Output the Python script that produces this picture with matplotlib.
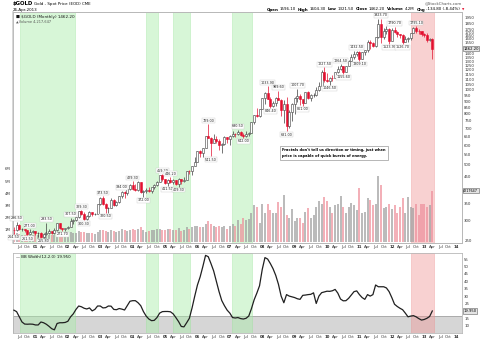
import matplotlib
matplotlib.use("Agg")
import matplotlib.pyplot as plt
import matplotlib.transforms as mtransforms
import numpy as np

# monthly candles, May 2000 .. Apr 2013 (x = months counted from Jan 2000)
first_month = 4
first_open = 275.0

close = ([273.6, 288.2, 276.8, 277.0, 273.7, 264.5, 269.1, 272.6]
         + [265.6, 266.7, 258.0, 263.2, 267.5, 270.6, 265.9, 273.0, 291.5, 278.8, 275.5, 278.9]
         + [282.3, 296.8, 301.4, 308.2, 326.6, 318.5, 304.6, 312.8, 323.7, 316.9, 319.1, 347.2]
         + [367.5, 347.5, 334.9, 336.8, 361.4, 346.0, 354.8, 375.6, 388.0, 386.3, 398.4, 416.3]
         + [400.4, 397.1, 427.2, 388.5, 393.3, 395.8, 391.4, 407.3, 415.7, 428.4, 453.4, 438.0]
         + [422.2, 435.5, 427.5, 435.7, 417.3, 437.1, 429.0, 433.3, 473.3, 470.8, 495.6, 513.0]
         + [568.8, 556.0, 582.0, 654.5, 643.5, 613.5, 633.0, 623.5, 599.3, 603.8, 646.7, 632.0]
         + [650.5, 664.2, 661.8, 677.5, 659.0, 650.5, 665.5, 672.0, 743.0, 789.5, 783.5, 833.8]
         + [923.0, 971.5, 916.5, 864.0, 885.0, 926.0, 912.0, 833.0, 880.0, 718.0, 814.5, 880.0]
         + [927.0, 942.0, 919.5, 886.0, 979.0, 927.0, 955.0, 955.5, 1001.0, 1039.0, 1182.0, 1096.0]
         + [1081.0, 1119.0, 1113.0, 1180.0, 1216.0, 1244.0, 1181.0, 1248.0, 1308.0, 1358.0, 1386.0, 1421.0]
         + [1333.0, 1411.0, 1439.0, 1556.0, 1536.0, 1500.0, 1628.0, 1826.0, 1620.0, 1723.0, 1746.0, 1566.0]
         + [1738.0, 1710.0, 1669.0, 1664.0, 1560.0, 1598.0, 1614.0, 1692.0, 1774.0, 1719.0, 1712.0, 1675.0]
         + [1663.0, 1578.0, 1597.0, 1462.2])

high = ([281.0, 296.5, 290.5, 280.5, 276.5, 274.0, 277.0, 275.0]
        + [272.5, 269.0, 269.0, 266.0, 293.5, 278.0, 272.0, 279.0, 293.0, 292.5, 280.0, 280.5]
        + [284.0, 307.5, 303.5, 311.0, 328.0, 329.3, 324.0, 315.0, 326.0, 325.0, 322.0, 350.0]
        + [372.0, 373.5, 352.0, 340.5, 370.0, 365.0, 358.0, 376.0, 394.0, 392.0, 400.0, 417.5]
        + [429.3, 418.0, 429.0, 428.0, 395.0, 404.0, 408.0, 409.0, 419.0, 430.0, 454.0, 459.2]
        + [438.0, 439.0, 446.2, 439.0, 436.0, 443.0, 439.0, 448.0, 474.0, 477.0, 497.0, 538.0]
        + [570.0, 574.0, 585.0, 655.0, 729.0, 645.0, 665.0, 655.0, 632.0, 612.0, 650.0, 648.0]
        + [657.0, 686.0, 669.0, 690.5, 686.0, 673.0, 683.0, 676.0, 745.0, 795.0, 841.0, 838.0]
        + [928.0, 975.0, 1033.9, 933.0, 903.0, 939.0, 989.6, 915.0, 912.0, 935.0, 828.0, 885.0]
        + [937.0, 1007.7, 963.0, 922.0, 983.0, 990.0, 960.0, 966.0, 1025.0, 1070.0, 1195.0, 1227.5]
        + [1162.0, 1125.0, 1143.0, 1182.0, 1249.0, 1264.5, 1245.0, 1250.0, 1310.0, 1388.0, 1424.0, 1432.5]
        + [1424.0, 1414.0, 1448.0, 1576.0, 1577.0, 1556.0, 1632.0, 1913.0, 1923.7, 1764.0, 1805.0, 1764.0]
        + [1764.0, 1790.7, 1720.0, 1678.0, 1667.0, 1640.0, 1627.0, 1693.0, 1788.0, 1795.1, 1755.0, 1722.0]
        + [1695.0, 1682.0, 1617.0, 1604.3])

low = ([264.5, 270.5, 275.0, 270.5, 268.5, 261.5, 263.5, 267.0]
       + [263.0, 256.5, 256.0, 255.8, 263.0, 265.0, 264.0, 264.5, 271.0, 277.0, 271.7, 272.5]
       + [276.5, 281.0, 289.0, 299.0, 307.5, 314.0, 300.3, 301.0, 310.0, 313.0, 314.0, 316.5]
       + [344.5, 345.0, 320.5, 322.0, 335.0, 342.0, 341.5, 352.0, 370.0, 369.0, 379.0, 396.0]
       + [397.0, 392.0, 393.0, 385.0, 372.0, 384.0, 389.0, 385.0, 399.0, 412.0, 426.0, 431.0]
       + [418.0, 411.5, 423.0, 421.0, 414.5, 409.3, 418.5, 427.0, 433.0, 458.0, 456.0, 494.0]
       + [513.0, 538.0, 536.0, 582.0, 640.0, 541.5, 612.0, 612.0, 573.0, 560.0, 603.0, 611.0]
       + [603.0, 645.0, 645.0, 660.0, 651.0, 642.0, 648.0, 650.0, 670.0, 730.0, 779.0, 781.0]
       + [834.0, 880.0, 914.0, 846.4, 851.0, 858.0, 908.0, 786.0, 735.0, 681.0, 705.0, 747.0]
       + [802.0, 890.0, 865.0, 861.0, 883.0, 920.0, 905.0, 931.0, 942.0, 992.0, 1035.0, 1075.0]
       + [1075.0, 1046.5, 1088.0, 1113.0, 1164.0, 1198.0, 1155.6, 1177.0, 1242.0, 1308.0, 1330.0, 1360.0]
       + [1309.1, 1329.0, 1381.0, 1419.0, 1462.0, 1478.0, 1480.0, 1611.0, 1535.0, 1603.0, 1671.0, 1523.9]
       + [1563.0, 1693.0, 1627.0, 1614.0, 1526.7, 1547.0, 1555.0, 1583.0, 1683.0, 1692.0, 1672.0, 1635.0]
       + [1626.0, 1555.0, 1562.0, 1321.5])

# volume, millions
volume = ([0.7, 0.75, 0.65, 0.6, 0.6, 0.65, 0.6, 0.6]
          + [0.65, 0.6, 0.7, 0.6, 0.8, 0.55, 0.55, 0.6, 0.85, 0.7, 0.6, 0.55]
          + [0.65, 0.85, 0.7, 0.7, 0.9, 0.85, 0.8, 0.7, 0.75, 0.7, 0.65, 0.85]
          + [1.0, 0.95, 0.9, 0.85, 1.0, 0.9, 0.85, 0.9, 1.05, 0.95, 0.9, 1.0]
          + [1.1, 1.0, 1.05, 1.2, 1.0, 0.85, 0.9, 0.95, 1.0, 1.05, 1.1, 1.0]
          + [0.95, 1.05, 1.1, 0.95, 1.0, 1.15, 0.9, 0.95, 1.2, 1.1, 1.25, 1.3]
          + [1.35, 1.2, 1.25, 1.45, 1.75, 1.5, 1.3, 1.2, 1.35, 1.25, 1.3, 1.1]
          + [1.3, 1.5, 1.35, 1.8, 1.5, 1.95, 1.8, 1.85, 2.35, 3.0, 2.9, 1.55]
          + [3.1, 2.4, 3.1, 2.6, 2.4, 2.4, 3.3, 2.9, 3.85, 2.2, 1.95, 2.7]
          + [1.7, 2.0, 2.0, 1.6, 2.5, 2.75, 2.0, 2.2, 2.9, 3.4, 3.1, 3.7]
          + [3.35, 2.9, 2.4, 3.0, 3.1, 3.8, 2.9, 2.4, 2.9, 3.2, 3.0, 2.6]
          + [4.45, 2.35, 2.5, 3.6, 3.45, 3.0, 3.1, 5.4, 4.7, 2.75, 2.9, 3.1]
          + [2.7, 3.0, 2.35, 2.9, 3.6, 2.4, 3.7, 2.9, 2.75, 3.15, 2.2, 3.1]
          + [3.1, 2.9, 3.0, 4.22])

# BB Width(12,2.0)
bbw = ([20.5, 19.5, 16, 12.5, 11.1, 11, 11.1, 11]
       + [10.5, 10.5, 12.5, 12, 11, 9.6, 8, 7.2, 11.5, 12, 12, 12.2]
       + [13, 16, 18, 21, 23.3, 22.8, 21.8, 21.3, 22, 20, 21, 23.3]
       + [23.3, 22, 22.2, 23.3, 23.2, 21, 20.8, 21.6, 21.2, 20.6, 23.5, 26.5]
       + [26.9, 26.9, 25.5, 23.5, 19.5, 16.5, 14.5, 13.4, 13.6, 15.5, 18.5, 19.5]
       + [19.6, 19.6, 19.4, 18, 15.5, 12.8, 9.5, 9.2, 12, 15, 22, 30]
       + [37.5, 43, 50, 57.5, 56.6, 52, 47, 40, 33, 27, 23.5, 20.5]
       + [18.5, 15.5, 15.2, 15.5, 14.8, 14.5, 15, 16.5, 21.5, 27.5, 32, 37]
       + [48, 56, 55, 52, 48.5, 44, 38, 30, 25.5, 31, 30, 29.5]
       + [29, 28.2, 27.8, 30.5, 30.7, 31, 31.2, 32.2, 25, 30, 32.3, 32.8]
       + [33.3, 33.2, 33.6, 34.5, 32, 28, 26.8, 26.9, 28.5, 30.7, 33, 33.5]
       + [31, 29, 27.8, 31, 30, 31, 37.5, 36.3, 36.3, 36.3, 35.5, 33]
       + [29, 24.5, 23, 21.8, 20.8, 18.5, 16, 16.5, 16.8, 16, 14.8, 13.8]
       + [14.2, 15, 16.2, 19.95])

# swing highs / lows that carry a price tag (month index)
tag_high = [5, 10, 16, 25, 29, 37, 44, 48, 59, 62, 76, 87, 98, 102, 109, 119, 125, 131, 140, 145, 153]
tag_low = [4, 9, 15, 22, 30, 38, 52, 61, 65, 77, 89, 99, 105, 111, 121, 126, 132, 143, 148]

# highlighted periods (month index)
green_spans = [(6.2, 26.5), (52.8, 57.5), (62.8, 69.3), (84.7, 92.3)]
red_spans = [(151.0, 159.5)]
bb_squeeze = 16.5

price_ticks = [250, 300, 350, 450, 500, 550, 600, 650, 700, 750, 800, 850, 900, 950, 1000,
               1050, 1100, 1150, 1200, 1250, 1300, 1350, 1400, 1550, 1600, 1650, 1700, 1750,
               1850, 1950]
bb_ticks = [10, 15, 25, 30, 35, 40, 45, 50, 55]
vol_ticks = [1, 2, 3, 4, 5, 6]

RED = "#e3102f"
DARK = "#3c3c3c"
GREEN = "#a8eda8"
PINK = "#f09a9a"
FS = 2.8

x = np.arange(first_month, first_month + len(close))
c = np.array(close)
o = np.array([first_open] + close[:-1])
h = np.array(high)
l = np.array(low)
up = c >= o

W, H = 480, 340
fig = plt.figure(figsize=(4.8, 3.4), dpi=100)


def rect(left, top, right, bottom):
    return [left / W, 1 - bottom / H, (right - left) / W, (bottom - top) / H]


ax_vol = fig.add_axes(rect(13, 12, 462, 243))
ax = ax_vol.twinx()
ax_bb = fig.add_axes(rect(13, 253, 462, 333), sharex=ax_vol)

for a in (ax_vol, ax_bb):
    for s, e in green_spans:
        a.axvspan(s, e, fc=GREEN, ec="#8fe38f", lw=0.5, alpha=0.45, zorder=1)
    for s, e in red_spans:
        a.axvspan(s, e, fc=PINK, ec="#e88", lw=0.5, alpha=0.45, zorder=1)

# volume
ax_vol.bar(x, volume, width=0.75, color=["#9e9e9e" if u else "#ee8f9b" for u in up],
           alpha=0.7, lw=0, zorder=2)
ax_vol.set_ylim(-0.08, 18.86)
ax_vol.set_yticks(vol_ticks)
ax_vol.set_yticklabels([f"{v}M" for v in vol_ticks])

# candles
ax.set_yscale("log")
ax.vlines(x, l, h, colors=[DARK if u else RED for u in up], lw=0.5, zorder=3)
ax.bar(x, np.abs(c - o), bottom=np.minimum(o, c), width=0.75,
       color=["white" if u else RED for u in up],
       edgecolor=[DARK if u else RED for u in up], lw=0.4, zorder=4)
ax.set_ylim(243.2, 2048)
ax.set_yticks(price_ticks)
ax.set_yticklabels([str(t) for t in price_ticks])
ax.yaxis.set_minor_locator(matplotlib.ticker.NullLocator())

tag_box = dict(boxstyle="square,pad=0.12", fc="white", ec="#cccccc", lw=0.3)
for m in tag_high:
    i = m - first_month
    ax.annotate(f"{h[i]:.2f}", (x[i], h[i]), xytext=(0, 1.0), textcoords="offset points",
                ha="center", va="bottom", fontsize=2.4, color="#222", bbox=tag_box, zorder=6)
for m in tag_low:
    i = m - first_month
    ax.annotate(f"{l[i]:.2f}", (x[i], l[i]), xytext=(0, -1.0), textcoords="offset points",
                ha="center", va="top", fontsize=2.4, color="#222", bbox=tag_box, zorder=6)

# BB width panel
ax_bb.axhspan(5.07, bb_squeeze, fc="#d6d6d6", ec="#a0a0a0", lw=0.6, zorder=0.5)
ax_bb.plot(x, bbw, color="#202020", lw=0.9, zorder=3)
ax_bb.set_ylim(5.07, 59.1)
ax_bb.yaxis.tick_right()
ax_bb.set_yticks(bb_ticks)
ax_bb.set_yticklabels([str(t) for t in bb_ticks])

# time axis
ax_vol.set_xlim(3.67, 170.0)
qpos = list(range(6, 169, 3))
qlab = []
for q in qpos:
    mon = q % 12
    qlab.append(f"{(2000 + q // 12) % 100:02d}" if mon == 0 else {3: "Apr", 6: "Jul", 9: "Oct"}[mon])
ax_vol.set_xticks(qpos)
ax_vol.set_xticklabels(qlab)

for a in (ax_vol, ax, ax_bb):
    a.tick_params(length=0, labelsize=FS, pad=1.6, colors="#333")
    for sp in a.spines.values():
        sp.set_color("#b8b8b8")
        sp.set_linewidth(0.6)
ax_vol.spines["left"].set_color("#d0d0d0")
ax_vol.spines["left"].set_linewidth(1.2)
ax_vol.tick_params(axis="x", pad=1.4)
ax_bb.tick_params(axis="x", pad=1.2)
for a in (ax_vol, ax_bb):
    for t in a.get_xticklabels():
        if t.get_text().isdigit():
            t.set_fontweight("bold")

# current value boxes on the right scale
val_box = dict(boxstyle="square,pad=0.15", fc="#e4e4e4", ec="#606060", lw=0.4)
ax.text(1.003, c[-1], f"{c[-1]:.2f}", transform=mtransforms.blended_transform_factory(ax.transAxes, ax.transData),
        fontsize=2.7, va="center", ha="left", bbox=val_box, clip_on=False)
ax_vol.text(1.003, volume[-1], "4217647", transform=mtransforms.blended_transform_factory(ax_vol.transAxes, ax_vol.transData),
            fontsize=2.4, va="center", ha="left", bbox=val_box, clip_on=False)
ax_bb.text(1.003, bbw[-1], f"{bbw[-1]:.3f}", transform=mtransforms.blended_transform_factory(ax_bb.transAxes, ax_bb.transData),
           fontsize=2.7, va="center", ha="left", bbox=val_box, clip_on=False)

# in-panel legends
ax.text(0.006, 0.988, "\u25a0 $GOLD (Monthly) 1462.20", transform=ax.transAxes, fontsize=3.0,
        va="top", ha="left", color="#111")
ax.text(0.006, 0.968, "\u25b2Volume 4,217,647", transform=ax.transAxes, fontsize=2.5,
        va="top", ha="left", color="#555")
ax_bb.text(0.006, 0.975, "\u2014 BB Width(12,2.0) 19.950", transform=ax_bb.transAxes, fontsize=2.9,
           va="top", ha="left", color="#111")

# note
fig.text(282 / W, 1 - 148.5 / H,
         "Fractals don't tell us direction or timing, just when\nprice is capable of quick bursts of energy.",
         fontsize=2.6, fontweight="bold", va="top", ha="left", linespacing=1.6,
         bbox=dict(boxstyle="square,pad=0.6", fc="white", ec="#9a9a9a", lw=0.5))

# header
fig.text(13 / W, 1 - 4 / H, "$GOLD", fontsize=3.9, fontweight="bold", va="center", ha="left")
fig.text(34 / W, 1 - 4 / H, "Gold - Spot Price (EOD) CME", fontsize=2.9, va="center", ha="left")
fig.text(13 / W, 1 - 9.5 / H, "26-Apr-2013", fontsize=2.9, va="center", ha="left")
fig.text(462 / W, 1 - 3.5 / H, "@StockCharts.com", fontsize=2.8, va="center", ha="right", color="#555")

fig.canvas.draw()
rend = fig.canvas.get_renderer()
parts = [("Open", True), ("1596.10", False), ("High", True), ("1604.30", False), ("Low", True),
         ("1321.50", False), ("Close", True), ("1462.20", False), ("Volume", True), ("4.2M", False),
         ("Chg", True), ("-134.80 (-8.44%)", False)]
xpos = 266.5
for word, bold in parts:
    t = fig.text(xpos / W, 1 - 9.5 / H, word, fontsize=2.9, fontweight="bold" if bold else "normal",
                 va="center", ha="left")
    xpos += t.get_window_extent(renderer=rend).width + (1.0 if bold else 2.0)
fig.text(xpos / W, 1 - 9.5 / H, "\u25bc", fontsize=2.2, color=RED, va="center", ha="left")

fig.savefig("out.png", dpi=100)
